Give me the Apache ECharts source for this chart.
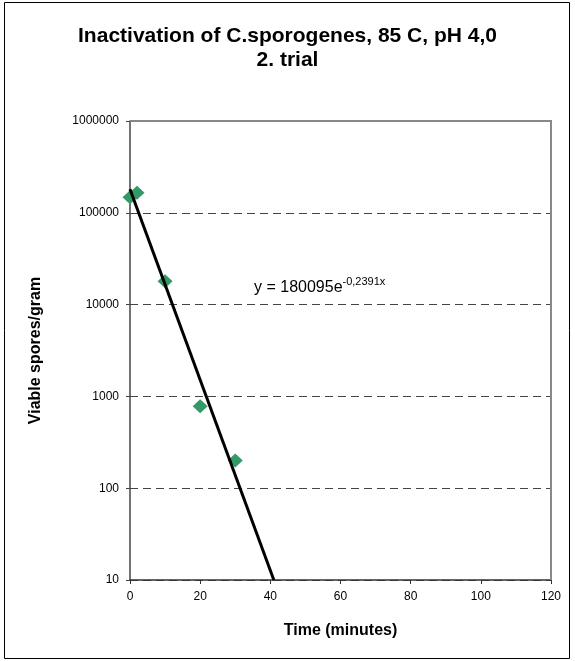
<!DOCTYPE html>
<html>
<head>
<meta charset="utf-8">
<script src="https://cdn.jsdelivr.net/npm/echarts@6/dist/echarts.min.js"></script>
<style>
html,body{margin:0;padding:0;background:#fff;}
#chart{width:575px;height:661px;}
</style>
</head>
<body>
<div id="chart"></div>
<script>
// Measured data (time in minutes, viable spores/gram)
var times = [0, 2, 10, 20, 30];
var spores = [148000, 165000, 18000, 780, 200];
// Exponential trendline endpoints (y = 180095e^-0,2391x)
var trendX = [0, 41];
var trendY = [180095, 10];
var xTicks = [0, 20, 40, 60, 80, 100, 120];
var yTicks = [10, 100, 1000, 10000, 100000, 1000000];
var titleText = 'Inactivation of C.sporogenes, 85 C, pH 4,0\n2. trial';
var eqMain = 'y = 180095e';
var eqSup = '-0,2391x';

var chart = echarts.init(document.getElementById('chart'));
var font = '"Liberation Sans", Arial, sans-serif';

var scatterData = times.map(function (t, i) { return [t, spores[i]]; });
var trendData = trendX.map(function (t, i) { return [t, trendY[i]]; });

chart.setOption({
  animation: false,
  backgroundColor: '#fff',
  textStyle: { fontFamily: font },
  title: {
    text: titleText,
    left: 'center',
    top: 19,
    textStyle: { fontSize: 21, fontWeight: 'bold', color: '#000', fontFamily: font, lineHeight: 24 }
  },
  grid: { left: 130, right: 24, top: 121, bottom: 81, show: false },
  xAxis: {
    type: 'value',
    min: xTicks[0],
    max: xTicks[xTicks.length - 1],
    interval: 20,
    name: 'Time (minutes)',
    nameLocation: 'middle',
    nameGap: 43,
    nameTextStyle: { fontSize: 16, fontWeight: 'bold', color: '#000', fontFamily: font },
    axisLine: { onZero: false, lineStyle: { color: '#333', width: 1.5 } },
    axisTick: { show: true, inside: false, length: 4, lineStyle: { color: '#333' } },
    axisLabel: { fontSize: 12, color: '#000', margin: 11, fontFamily: font },
    splitLine: { show: false }
  },
  yAxis: {
    type: 'log',
    logBase: 10,
    min: yTicks[0],
    max: yTicks[yTicks.length - 1],
    name: 'Viable spores/gram',
    nameLocation: 'middle',
    nameGap: 86,
    nameTextStyle: { fontSize: 16, fontWeight: 'bold', color: '#000', fontFamily: font },
    axisLine: { show: true, lineStyle: { color: '#444', width: 1.5 } },
    axisTick: { show: true, length: 4, lineStyle: { color: '#444' } },
    axisLabel: {
      fontSize: 12, color: '#000', margin: 11, fontFamily: font,
      formatter: function (v) { return String(Math.round(v)); }
    },
    splitLine: { show: true, lineStyle: { color: '#444', type: [8, 5], width: 1 } }
  },
  graphic: [
    { type: 'rect', shape: { x: 4.5, y: 2.5, width: 565, height: 656 }, style: { fill: 'none', stroke: '#000', lineWidth: 1 }, silent: true },
    { type: 'polyline', shape: { points: [[130, 121], [551, 121], [551, 580]] }, style: { fill: 'none', stroke: '#888', lineWidth: 2 }, silent: true, z: 10 },
    {
      type: 'text', left: 254, top: 276, z: 20,
      style: {
        text: '{m|' + eqMain + '}{s|' + eqSup + '}',
        rich: {
          m: { fontSize: 16, fontFamily: font, fill: '#000', verticalAlign: 'bottom' },
          s: { fontSize: 11, fontFamily: font, fill: '#000', verticalAlign: 'top', padding: [0, 0, 9, 0] }
        }
      }
    }
  ],
  series: [
    {
      type: 'line',
      data: trendData,
      symbol: 'none',
      lineStyle: { color: '#000', width: 3 },
      z: 3
    },
    {
      type: 'scatter',
      data: scatterData,
      symbol: 'diamond',
      symbolSize: [15, 14],
      itemStyle: { color: '#339966', opacity: 1 },
      z: 2
    }
  ]
});
</script>
</body>
</html>
